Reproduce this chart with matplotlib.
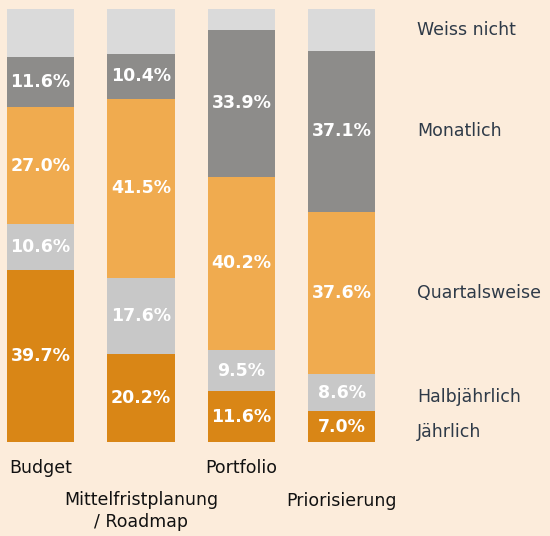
import numpy as np
import matplotlib.pyplot as plt

categories = ["Budget", "Mittelfristplanung\n/ Roadmap", "Portfolio", "Priorisierung"]
series = ["Jährlich", "Halbjährlich", "Quartalsweise", "Monatlich", "Weiss nicht"]
jaehrlich = [39.7, 20.2, 11.6, 7.0]
halbjaehrlich = [10.6, 17.6, 9.5, 8.6]
quartalsweise = [27.0, 41.5, 40.2, 37.6]
monatlich = [11.6, 10.4, 33.9, 37.1]
weiss_nicht = [11.1, 10.3, 4.8, 9.7]

colors = ["#d98616", "#c8c8c8", "#f0ab4f", "#8d8c8a", "#dadada"]
bg = "#fcecdb"

plt.rcParams['font.family'] = ['DejaVu Sans']

fig = plt.figure(figsize=(5.5, 5.36), dpi=100, facecolor=bg)
ax = fig.add_axes([0, 0.176, 1, 0.807])
ax.set_facecolor(bg)

x = np.arange(len(categories))
bottom = np.zeros(len(categories))
data = [jaehrlich, halbjaehrlich, quartalsweise, monatlich, weiss_nicht]
for i, (vals, col) in enumerate(zip(data, colors)):
    vals = np.array(vals)
    ax.bar(x, vals, bottom=bottom, width=0.667, color=col)
    if i < 4:
        for xi, v, b in zip(x, vals, bottom):
            ax.text(xi, b + v / 2, f"{v:.1f}%", ha="center", va="center",
                    color="white", fontsize=12.5, fontweight="bold")
    # series labels to the right of the last bar
    yc = bottom[-1] + vals[-1] / 2
    if series[i] == "Jährlich":
        yc -= 1.2
    elif series[i] == "Halbjährlich":
        yc -= 0.9
    ax.text(3.746, yc, series[i], ha="left", va="center", color="#2e3a48", fontsize=12.5)
    bottom = bottom + vals

ax.set_xlim(-0.403, 5.07)
ax.set_ylim(0, 100)
ax.axis("off")

label_y = [-6.2, -16.0, -6.2, -13.7]
for xi, lab, ly in zip(x, categories, label_y):
    ax.text(xi, ly, lab, ha="center", va="center", fontsize=12.5, color="#111111",
            linespacing=1.25, clip_on=False)

fig.savefig("out.png", dpi=100, facecolor=bg)
